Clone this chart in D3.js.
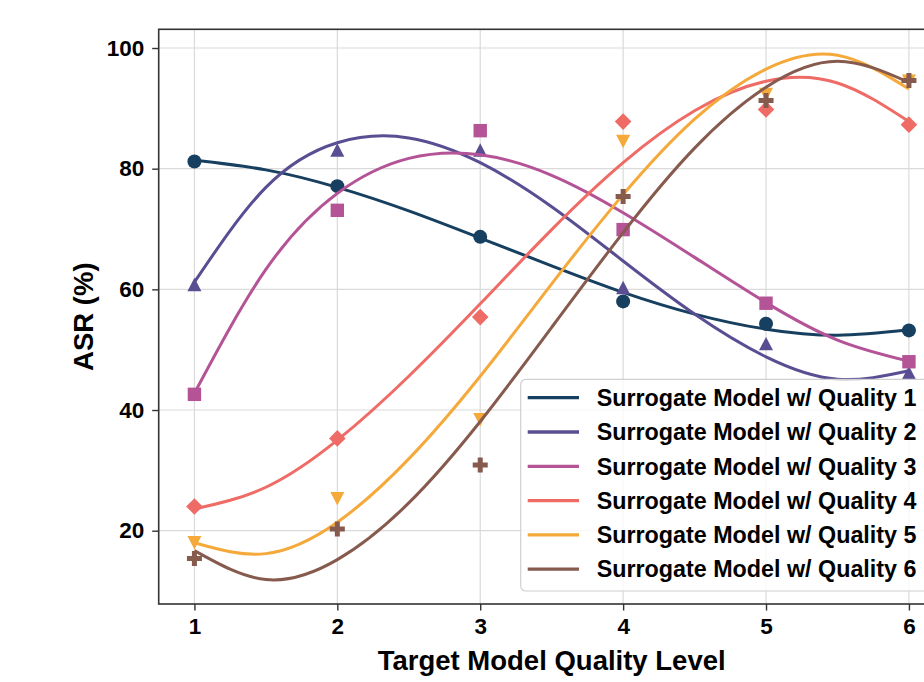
<!DOCTYPE html>
<html>
<head>
<meta charset="utf-8">
<script src="https://cdn.jsdelivr.net/npm/d3@7"></script>
<style>
    body { margin: 0; background: #fff; }
    text { font-family: "Liberation Sans", Arial, sans-serif; font-weight: bold; fill: #000; }
</style>
</head>
<body>
<svg id="chart" width="924" height="682"></svg>
<script>
'use strict';

// measured points
let qualityLevels = [1, 2, 3, 4, 5, 6]
let asrQ1 = [81.2, 77.1, 68.7, 58.0, 54.3, 53.2]
let asrQ2 = [60.8, 83.1, 83.1, 60.3, 51.0, 46.2]
let asrQ3 = [42.6, 73.1, 86.3, 69.9, 57.7, 48.0]
let asrQ4 = [24.0, 35.3, 55.4, 87.8, 89.8, 87.3]
let asrQ5 = [18.0, 25.3, 38.4, 84.5, 92.3, 94.5]
let asrQ6 = [15.4, 20.3, 30.9, 75.4, 91.3, 94.6]

// trend lines, every half level (smoothed by hand)
let fitLevels = [1, 1.5, 2, 2.5, 3, 3.5, 4, 4.5, 5, 5.5, 6]
let fitQ1 = [81.4, 79.8, 76.9, 73.0, 68.5, 63.9, 59.5, 55.9, 53.4, 52.4, 53.3]
let fitQ2 = [61.2, 76.9, 84.3, 85.1, 81.0, 73.7, 64.7, 55.9, 48.8, 45.1, 46.5]
let fitQ3 = [42.8, 63.3, 75.9, 81.7, 82.3, 78.9, 72.7, 65.3, 57.8, 51.6, 48.1]
let fitQ4 = [23.6, 27.2, 35.0, 45.6, 57.6, 69.9, 81.0, 89.6, 94.5, 94.2, 87.8]
let fitQ5 = [18.0, 16.2, 21.4, 31.9, 45.6, 60.9, 75.7, 88.2, 96.5, 98.8, 93.2]
let fitQ6 = [16.7, 11.9, 15.2, 24.6, 38.1, 53.7, 69.4, 83.4, 93.5, 97.8, 94.3]

let xTicks = [1, 2, 3, 4, 5, 6]
let yTicks = [20, 40, 60, 80, 100]
let seriesNames = [
    'Surrogate Model w/ Quality 1',
    'Surrogate Model w/ Quality 2',
    'Surrogate Model w/ Quality 3',
    'Surrogate Model w/ Quality 4',
    'Surrogate Model w/ Quality 5',
    'Surrogate Model w/ Quality 6'
]
let seriesColors = ['#173f5f', '#5a4e93', '#b45396', '#ef6b66', '#f5a93a', '#875a4e']
let seriesMarkers = ['circle', 'triangleUp', 'square', 'diamond', 'triangleDown', 'plus']

let svg = d3.select('#chart')
let margin = { left: 158.7, top: 29.3, bottom: 604 }
let plotRight = 158.7 + 5.5 * 142.9

let x = d3.scaleLinear().domain([0.75, 6.25]).range([margin.left, plotRight])
let y = d3.scaleLinear().domain([7.85, 103.1]).range([margin.bottom, margin.top])

function markerPath(kind) {
    if (kind === 'circle') return d3.symbol(d3.symbolCircle, Math.PI * 7 * 7)()
    if (kind === 'square') return 'M-6.7,-6.7H6.7V6.7H-6.7Z'
    if (kind === 'diamond') return 'M0,-8.3L8.3,0L0,8.3L-8.3,0Z'
    if (kind === 'triangleUp') return 'M0,-6.7L7,6.7L-7,6.7Z'
    if (kind === 'triangleDown') return 'M0,6.7L7,-6.7L-7,-6.7Z'
    // filled plus, arms a third of the width
    let s = 15 / 6
    let pts = [[-1, -3], [1, -3], [1, -1], [3, -1], [3, 1], [1, 1], [1, 3], [-1, 3], [-1, 1], [-3, 1], [-3, -1], [-1, -1]]
    return 'M' + pts.map(function(p) { return (p[0] * s) + ',' + (p[1] * s) }).join('L') + 'Z'
}

function drawGrid() {
    let grid = svg.append('g').attr('class', 'grid')
    grid.selectAll('line.vx')
        .data(xTicks)
        .enter().append('line')
        .attr('x1', function(d) { return x(d) })
        .attr('x2', function(d) { return x(d) })
        .attr('y1', margin.top)
        .attr('y2', margin.bottom)
        .attr('stroke', '#dadada')
        .attr('stroke-width', 1.2)
    grid.selectAll('line.hy')
        .data(yTicks)
        .enter().append('line')
        .attr('x1', margin.left)
        .attr('x2', plotRight)
        .attr('y1', function(d) { return y(d) })
        .attr('y2', function(d) { return y(d) })
        .attr('stroke', '#dadada')
        .attr('stroke-width', 1.2)
}

function drawAxes() {
    let xAxis = svg.append('g')
        .attr('transform', 'translate(0,' + margin.bottom + ')')
        .call(d3.axisBottom(x).tickValues(xTicks).tickFormat(d3.format('d')).tickSize(6.5).tickPadding(7.5))
    let yAxis = svg.append('g')
        .attr('transform', 'translate(' + margin.left + ',0)')
        .call(d3.axisLeft(y).tickValues(yTicks).tickSize(6.5).tickPadding(7.9))

    ;[xAxis, yAxis].forEach(function(a) {
        a.select('.domain').remove()
        a.selectAll('.tick line').attr('stroke', '#333').attr('stroke-width', 1.4)
        a.selectAll('.tick text')
            .attr('fill', '#000')
            .style('font-size', '22.5px')
            .style('font-family', '"Liberation Sans", Arial, sans-serif')
            .style('font-weight', 'bold')
    })

    svg.append('rect')
        .attr('x', margin.left)
        .attr('y', margin.top)
        .attr('width', plotRight - margin.left)
        .attr('height', margin.bottom - margin.top)
        .attr('fill', 'none')
        .attr('stroke', '#333')
        .attr('stroke-width', 1.6)

    svg.append('text')
        .attr('x', (margin.left + plotRight) / 2)
        .attr('y', 670)
        .attr('text-anchor', 'middle')
        .style('font-size', '27.5px')
        .text('Target Model Quality Level')

    svg.append('text')
        .attr('transform', 'translate(93,' + ((margin.top + margin.bottom) / 2) + ') rotate(-90)')
        .attr('text-anchor', 'middle')
        .style('font-size', '27.5px')
        .text('ASR (%)')
}

function drawSeries() {
    let points = [asrQ1, asrQ2, asrQ3, asrQ4, asrQ5, asrQ6]
    let fits = [fitQ1, fitQ2, fitQ3, fitQ4, fitQ5, fitQ6]
    let line = d3.line()
        .x(function(d) { return x(d[0]) })
        .y(function(d) { return y(d[1]) })
        .curve(d3.curveNatural)

    let layer = svg.append('g').attr('class', 'series')
    for (let i = 0; i < fits.length; i++) {
        let color = seriesColors[i]
        layer.append('path')
            .datum(d3.zip(fitLevels, fits[i]))
            .attr('d', line)
            .attr('fill', 'none')
            .attr('stroke', color)
            .attr('stroke-width', 3)
        layer.selectAll('path.m' + i)
            .data(d3.zip(qualityLevels, points[i]))
            .enter().append('path')
            .attr('class', 'm' + i)
            .attr('transform', function(d) { return 'translate(' + x(d[0]) + ',' + y(d[1]) + ')' })
            .attr('d', markerPath(seriesMarkers[i]))
            .attr('fill', color)
    }
}

function drawLegend() {
    let top = 379.3
    let left = 520.7
    let rowGap = 34.3
    let legend = svg.append('g').attr('class', 'legend')
    legend.append('rect')
        .attr('x', left)
        .attr('y', top)
        .attr('width', 460)
        .attr('height', 211.7)
        .attr('rx', 5)
        .attr('fill', '#fff')
        .attr('fill-opacity', 0.8)
        .attr('stroke', '#d0d0d0')
        .attr('stroke-width', 1.2)

    let rows = legend.selectAll('g.row')
        .data(seriesNames)
        .enter().append('g')
        .attr('class', 'row')
        .attr('transform', function(d, i) { return 'translate(0,' + (top + 18.4 + i * rowGap) + ')' })
    rows.append('line')
        .attr('x1', left + 7)
        .attr('x2', left + 58.3)
        .attr('stroke', function(d, i) { return seriesColors[i] })
        .attr('stroke-width', 3.3)
    rows.append('text')
        .attr('x', 596.7)
        .attr('y', 8.2)
        .style('font-size', '23.3px')
        .text(function(d) { return d })
}

drawGrid()
drawSeries()
drawAxes()
drawLegend()
</script>
</body>
</html>
